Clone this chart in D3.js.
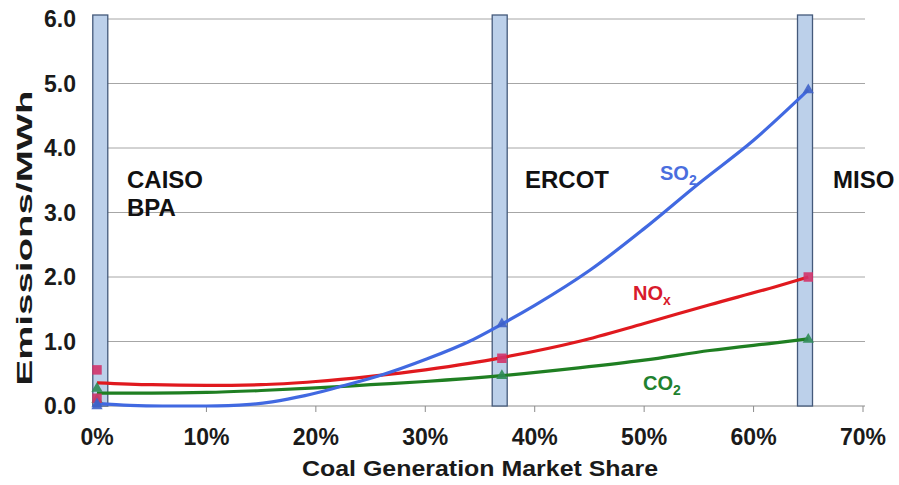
<!DOCTYPE html>
<meta charset="utf-8">
<script src="https://d3js.org/d3.v7.min.js"></script>
<style>
  body { margin: 0; background: #fff; }
  text { font-family: "Liberation Sans", Arial, sans-serif; font-weight: bold; }
</style>
<body>
<div id="chart"></div>
<script>
// market share (%) vs emissions per MWh
var xTicks = [0, 10, 20, 30, 40, 50, 60, 70];
var yTicks = [0, 1, 2, 3, 4, 5, 6];

// regional bands (market share in %)
var regionNames = ["CAISO|BPA", "ERCOT", "MISO"];
var regionShare = [0.3, 36.8, 64.7];

// trend curves
var so2Curve = [[0, 0.04], [3, 0.01], [6, 0], [10, 0], [12, 0.005], [14, 0.025], [16, 0.065], [19, 0.16],
  [22, 0.29], [26, 0.48], [30, 0.72], [34, 1.0], [37, 1.27], [40, 1.56], [45, 2.1], [50, 2.75],
  [55, 3.45], [60, 4.12], [65, 4.9]];
var noxCurve = [[0, 0.36], [5, 0.33], [10, 0.32], [15, 0.33], [20, 0.38], [25, 0.46], [30, 0.56],
  [34, 0.66], [37, 0.75], [44, 1.0], [50, 1.28], [56, 1.57], [62, 1.85], [65, 2.0]];
var co2Curve = [[0, 0.2], [5, 0.2], [10, 0.21], [15, 0.24], [20, 0.28], [25, 0.33], [30, 0.38],
  [37, 0.47], [44, 0.59], [50, 0.71], [56, 0.86], [62, 0.98], [65, 1.04]];

// measured points
var so2Points = [[0, 0.0], [0, 0.03], [37, 1.27], [65, 4.9]];
var noxPoints = [[0, 0.56], [0, 0.12], [37, 0.74], [65, 2.0]];
var co2Points = [[0, 0.27], [0, 0.1], [37, 0.47], [65, 1.03]];

var width = 899, height = 485;
var svg = d3.select("#chart").append("svg")
  .attr("width", width)
  .attr("height", height);

var x = d3.scaleLinear().domain([0, 70]).range([97, 863]);
var y = d3.scaleLinear().domain([0, 6]).range([406, 19]);
var left = 93, right = 865;

// gridlines
svg.append("g")
  .selectAll("line")
  .data(yTicks)
  .enter()
  .append("line")
  .attr("x1", left)
  .attr("x2", right)
  .attr("y1", function (d) { return y(d); })
  .attr("y2", function (d) { return y(d); })
  .attr("stroke", function (d) { return d === 0 ? "#8c8c8c" : "#a6a6a6"; })
  .attr("stroke-width", 1);

// x tick marks
svg.append("g")
  .selectAll("line")
  .data(xTicks.slice(1))
  .enter()
  .append("line")
  .attr("x1", function (d) { return x(d); })
  .attr("x2", function (d) { return x(d); })
  .attr("y1", y(0))
  .attr("y2", y(0) + 6)
  .attr("stroke", "#8c8c8c");

// y tick labels
svg.append("g")
  .selectAll("text")
  .data(yTicks)
  .enter()
  .append("text")
  .attr("x", 76)
  .attr("y", function (d) { return y(d) + 8; })
  .attr("text-anchor", "end")
  .attr("font-size", "23px")
  .attr("fill", "#1a1a1a")
  .text(function (d) { return d.toFixed(1); });

// x tick labels
svg.append("g")
  .selectAll("text")
  .data(xTicks)
  .enter()
  .append("text")
  .attr("x", function (d) { return x(d); })
  .attr("y", 445)
  .attr("text-anchor", "middle")
  .attr("font-size", "23px")
  .attr("fill", "#1a1a1a")
  .text(function (d) { return d + "%"; });

// axis titles
svg.append("text")
  .attr("x", 480)
  .attr("y", 476)
  .attr("text-anchor", "middle")
  .attr("font-size", "22px")
  .attr("textLength", 356)
  .attr("lengthAdjust", "spacingAndGlyphs")
  .attr("fill", "#1a1a1a")
  .text("Coal Generation Market Share");

svg.append("text")
  .attr("transform", "translate(32,238) rotate(-90)")
  .attr("text-anchor", "middle")
  .attr("font-size", "22px")
  .attr("textLength", 295)
  .attr("lengthAdjust", "spacingAndGlyphs")
  .attr("fill", "#1a1a1a")
  .text("Emissions/MWh");

// region bands
svg.append("g")
  .selectAll("rect")
  .data(regionShare)
  .enter()
  .append("rect")
  .attr("x", function (d) { return x(d) - 7.5; })
  .attr("y", 15)
  .attr("width", 15)
  .attr("height", y(0) - 15)
  .attr("fill", "#bcd0ea")
  .attr("stroke", "#44597a")
  .attr("stroke-width", 1.3);

// region labels
var regionLabelX = [127, 525, 833];
regionNames.forEach(function (name, i) {
  name.split("|").forEach(function (part, j) {
    svg.append("text")
      .attr("x", regionLabelX[i])
      .attr("y", 188 + j * 28)
      .attr("font-size", "24px")
      .attr("fill", "#111")
      .text(part);
  });
});

// curves
var line = d3.line()
  .x(function (d) { return x(d[0]); })
  .y(function (d) { return y(d[1]); })
  .curve(d3.curveMonotoneX);

var series = [
  { curve: co2Curve, points: co2Points, color: "#1f7f22", marker: "#2e8b57", shape: d3.symbolTriangle },
  { curve: noxCurve, points: noxPoints, color: "#e0191e", marker: "#d2336a", shape: d3.symbolSquare },
  { curve: so2Curve, points: so2Points, color: "#4169e1", marker: "#3f62c8", shape: d3.symbolTriangle }
];

series.forEach(function (s) {
  svg.append("path")
    .datum(s.curve)
    .attr("d", line)
    .attr("fill", "none")
    .attr("stroke", s.color)
    .attr("stroke-width", 3.2);
});

series.forEach(function (s) {
  svg.append("g")
    .selectAll("path")
    .data(s.points)
    .enter()
    .append("path")
    .attr("transform", function (d) { return "translate(" + x(d[0]) + "," + y(d[1]) + ")"; })
    .attr("d", d3.symbol().type(s.shape).size(s.shape === d3.symbolSquare ? 90 : 55))
    .attr("fill", s.marker)
    .attr("opacity", 0.9);
});

// series labels
function seriesLabel(px, py, main, sub, color) {
  var t = svg.append("text")
    .attr("x", px)
    .attr("y", py)
    .attr("font-size", "20px")
    .attr("fill", color);
  t.append("tspan").text(main);
  t.append("tspan").attr("dy", 5).attr("font-size", "14px").text(sub);
}
seriesLabel(660, 180, "SO", "2", "#4a6ede");
seriesLabel(633, 300, "NO", "x", "#d81a2c");
seriesLabel(643, 390, "CO", "2", "#21812e");
</script>
</body>
